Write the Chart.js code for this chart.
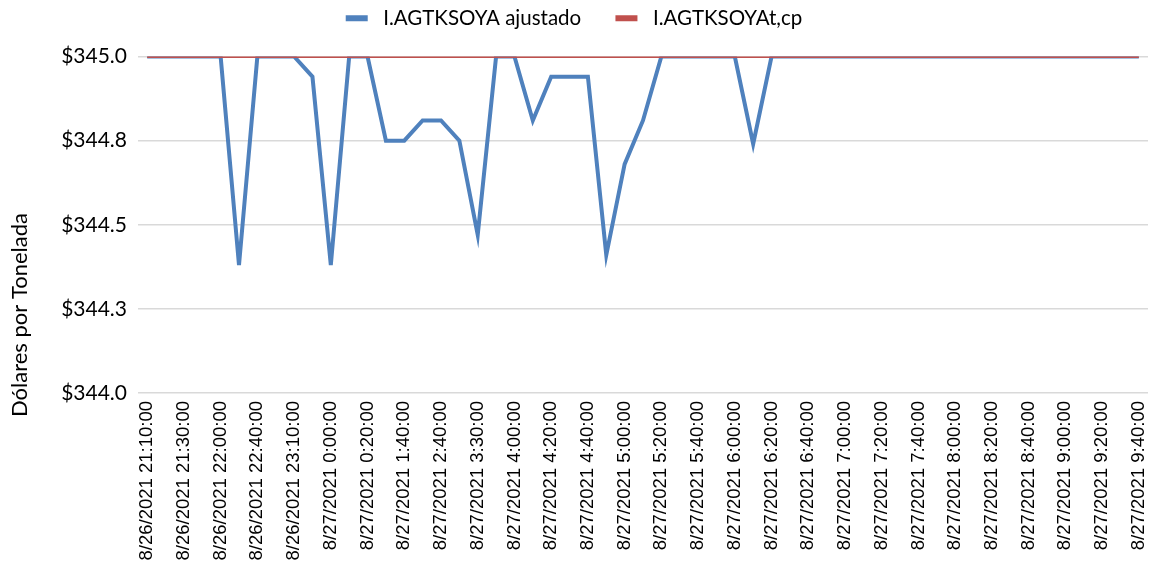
<!DOCTYPE html>
<html>
<head>
<meta charset="utf-8">
<script src="https://cdn.jsdelivr.net/npm/chart.js@4/dist/chart.umd.min.js"></script>
<style>
  html, body { margin: 0; padding: 0; background: #ffffff; }
  #wrap { width: 1152px; height: 571px; }
</style>
</head>
<body>
<div id="wrap"><canvas id="chart" width="1152" height="571"></canvas></div>
<script>
// Timestamps shown on the category axis (one every second observation)
const tickLabels = [
  '8/26/2021 21:10:00', '8/26/2021 21:30:00', '8/26/2021 22:00:00', '8/26/2021 22:40:00',
  '8/26/2021 23:10:00', '8/27/2021 0:00:00', '8/27/2021 0:20:00', '8/27/2021 1:40:00',
  '8/27/2021 2:40:00', '8/27/2021 3:30:00', '8/27/2021 4:00:00', '8/27/2021 4:20:00',
  '8/27/2021 4:40:00', '8/27/2021 5:00:00', '8/27/2021 5:20:00', '8/27/2021 5:40:00',
  '8/27/2021 6:00:00', '8/27/2021 6:20:00', '8/27/2021 6:40:00', '8/27/2021 7:00:00',
  '8/27/2021 7:20:00', '8/27/2021 7:40:00', '8/27/2021 8:00:00', '8/27/2021 8:20:00',
  '8/27/2021 8:40:00', '8/27/2021 9:00:00', '8/27/2021 9:20:00', '8/27/2021 9:40:00'
];

// Adjusted price series (USD per tonne), 55 observations
const adjusted = [
  345.00, 345.00, 345.00, 345.00, 345.00, 344.38, 345.00, 345.00, 345.00, 344.94,
  344.38, 345.00, 345.00, 344.75, 344.75, 344.81, 344.81, 344.75, 344.47, 345.00,
  345.00, 344.81, 344.94, 344.94, 344.94, 344.41, 344.68, 344.81, 345.00, 345.00,
  345.00, 345.00, 345.00, 344.74, 345.00, 345.00, 345.00, 345.00, 345.00, 345.00,
  345.00, 345.00, 345.00, 345.00, 345.00, 345.00, 345.00, 345.00, 345.00, 345.00,
  345.00, 345.00, 345.00, 345.00, 345.00
];

// Reference level series (USD per tonne), 55 observations
const reference = [
  345.00, 345.00, 345.00, 345.00, 345.00, 345.00, 345.00, 345.00, 345.00, 345.00,
  345.00, 345.00, 345.00, 345.00, 345.00, 345.00, 345.00, 345.00, 345.00, 345.00,
  345.00, 345.00, 345.00, 345.00, 345.00, 345.00, 345.00, 345.00, 345.00, 345.00,
  345.00, 345.00, 345.00, 345.00, 345.00, 345.00, 345.00, 345.00, 345.00, 345.00,
  345.00, 345.00, 345.00, 345.00, 345.00, 345.00, 345.00, 345.00, 345.00, 345.00,
  345.00, 345.00, 345.00, 345.00, 345.00
];

// Value-axis tick positions
const yTicks = [344.0, 344.25, 344.5, 344.75, 345.0];

const seriesNames = ['I.AGTKSOYA ajustado', 'I.AGTKSOYAt,cp'];
const yTitle = 'Dólares por Tonelada';

// One category per observation; only every second one carries a label
const categories = [];
tickLabels.forEach((t, i) => {
  categories.push(t);
  if (i < tickLabels.length - 1) categories.push('');
});

const BLUE = '#4F81BD';
const RED = '#C0504D';

// Rotated title beside the value axis
const yTitlePlugin = {
  id: 'yTitle',
  afterDraw(chart) {
    const ctx = chart.ctx;
    ctx.save();
    ctx.translate(20, 315);
    ctx.rotate(-Math.PI / 2);
    ctx.font = '22px Lato';
    ctx.fillStyle = '#000000';
    ctx.textAlign = 'center';
    ctx.textBaseline = 'middle';
    ctx.fillText(yTitle, 0, 0);
    ctx.restore();
  }
};

new Chart(document.getElementById('chart'), {
  type: 'line',
  data: {
    labels: categories,
    datasets: [
      {
        label: seriesNames[0],
        data: adjusted,
        borderColor: BLUE,
        backgroundColor: BLUE,
        borderWidth: 4,
        pointRadius: 0,
        tension: 0,
        order: 2
      },
      {
        label: seriesNames[1],
        data: reference,
        borderColor: RED,
        backgroundColor: RED,
        borderWidth: 3,
        pointRadius: 0,
        tension: 0,
        order: 1
      }
    ]
  },
  options: {
    responsive: false,
    animation: false,
    devicePixelRatio: 1,
    layout: { padding: { left: 0, right: 4, top: -21, bottom: 4 } },
    plugins: {
      tooltip: { enabled: false },
      // empty band between the legend and the plot area
      subtitle: {
        display: true,
        text: '',
        position: 'top',
        weight: 500,
        padding: 0,
        font: { size: 18, lineHeight: 1 }
      },
      legend: {
        position: 'top',
        labels: {
          boxWidth: 22,
          boxHeight: 6,
          padding: 29,
          color: '#000000',
          font: { family: 'Lato', size: 20.5 },
          sort: (a, b) => a.datasetIndex - b.datasetIndex,
          generateLabels(chart) {
            return chart.data.datasets.map((ds, i) => ({
              text: ' ' + ds.label + (i === 0 ? ' ' : ''),
              fillStyle: ds.borderColor,
              strokeStyle: ds.borderColor,
              lineWidth: 0,
              hidden: false,
              datasetIndex: i
            }));
          }
        }
      }
    },
    scales: {
      x: {
        type: 'category',
        offset: true,
        grid: { display: false, drawTicks: false },
        border: { display: false },
        ticks: {
          autoSkip: false,
          maxRotation: 90,
          minRotation: 90,
          padding: 8,
          color: '#000000',
          font: { family: 'Liberation Sans', size: 18.5 },
          callback: (v, i) => categories[i]
        },
        afterFit(scale) {
          scale.height = 571 - 393 - 4;
          scale.paddingLeft = 0;
          scale.paddingRight = 0;
        }
      },
      y: {
        min: 344,
        max: 345,
        border: { display: false },
        grid: { color: '#d9d9d9', lineWidth: 1.5, drawTicks: false },
        afterBuildTicks(scale) { scale.ticks = yTicks.map(v => ({ value: v })); },
        ticks: {
          color: '#000000',
          padding: 11,
          font: { family: 'Lato', size: 21 },
          callback: v => '$' + Number(v).toFixed(1)
        },
        afterFit(scale) { scale.width = 138; }
      }
    }
  },
  plugins: [yTitlePlugin]
});
</script>
</body>
</html>
